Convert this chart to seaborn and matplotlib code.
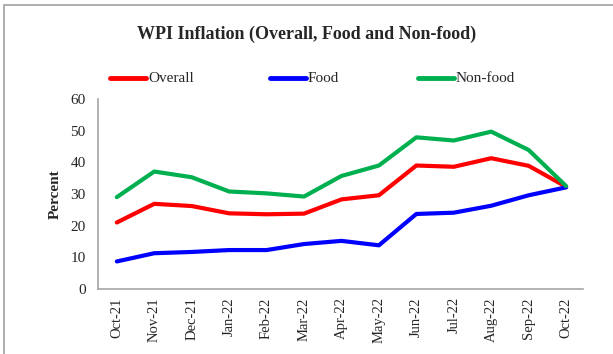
import matplotlib
matplotlib.use("Agg")
import matplotlib.pyplot as plt
import seaborn as sns
import pandas as pd
from matplotlib.patches import Rectangle

months = ["Oct-21", "Nov-21", "Dec-21", "Jan-22", "Feb-22", "Mar-22", "Apr-22",
          "May-22", "Jun-22", "Jul-22", "Aug-22", "Sep-22", "Oct-22"]
overall = [21.0, 26.9, 26.2, 23.9, 23.6, 23.8, 28.3, 29.6, 39.0, 38.6, 41.3, 38.9, 32.3]
food = [8.7, 11.3, 11.7, 12.3, 12.3, 14.2, 15.2, 13.8, 23.7, 24.1, 26.3, 29.6, 32.1]
nonfood = [29.0, 37.1, 35.3, 30.8, 30.2, 29.2, 35.7, 39.0, 47.9, 46.9, 49.7, 43.9, 32.5]
series_names = ["Overall", "Food", "Non-food"]
colors = ["#FF0000", "#0000FF", "#00B050"]

df = pd.DataFrame({"Month": months, "Overall": overall, "Food": food, "Non-food": nonfood})
df["idx"] = range(len(months))
long = df.melt(id_vars=["Month", "idx"], value_vars=series_names,
               var_name="Series", value_name="Value")

sns.set_style("white")
plt.rcParams["font.family"] = ["Liberation Serif", "DejaVu Serif"]

fig = plt.figure(figsize=(6.13, 3.54), dpi=100)
ax = fig.add_axes([0.160, 0.1836, 0.791, 0.5367])

sns.lineplot(data=long, x="idx", y="Value", hue="Series", hue_order=series_names,
             palette=colors, linewidth=3, ax=ax, legend=False)

ax.set_xlim(-0.5, 12.45)
ax.set_ylim(0, 60)
ax.set_yticks(range(0, 61, 10))
ax.set_xticks(range(len(months)))
ax.set_xticklabels(months, rotation=90, fontsize=10.5)
ax.tick_params(axis="y", labelsize=11, length=0, pad=9)
ax.tick_params(axis="x", length=0, pad=6)
ax.set_xlabel("")
ax.set_ylabel("Percent", fontsize=11, fontweight="bold", labelpad=6)
for side in ["top", "right"]:
    ax.spines[side].set_visible(False)
for side in ["left", "bottom"]:
    ax.spines[side].set_color("#A6A6A6")
    ax.spines[side].set_linewidth(1.2)

fig.text(0.5, 1 - 34 / 354, "WPI Inflation (Overall, Food and Non-food)",
         ha="center", va="center", fontsize=13, fontweight="bold")

# legend entries laid out across the top
leg_x = [110, 270, 418]
for name, col, x0 in zip(series_names, colors, leg_x):
    fy = 1 - 78 / 354
    fig.lines.append(plt.Line2D([x0 / 613, (x0 + 36) / 613], [fy, fy],
                                color=col, lw=3.5, transform=fig.transFigure,
                                solid_capstyle="round"))
    fig.text((x0 + 38) / 613, fy, name, ha="left", va="center", fontsize=11)

# chart border
fig.patches.append(Rectangle((4 / 613, -0.1), 1.2, (354 - 5) / 354 + 0.1,
                             transform=fig.transFigure, fill=False,
                             edgecolor="#A0A0A0", linewidth=1.2))

fig.savefig("out.png", dpi=100)
